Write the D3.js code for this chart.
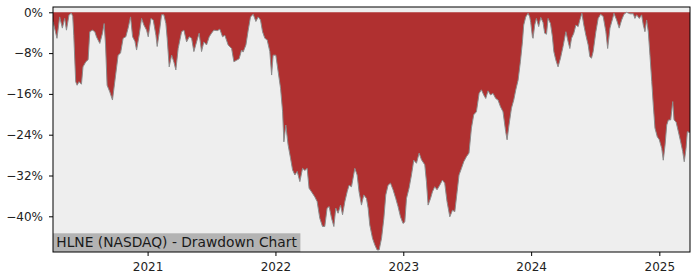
<!DOCTYPE html>
<html>
<head>
<meta charset="utf-8">
<script src="https://cdn.jsdelivr.net/npm/d3@7"></script>
<style>
html,body{margin:0;padding:0;background:#fff;}
svg{display:block;}
</style>
</head>
<body>
<svg id="chart" width="700" height="280"></svg>
<script>
// Decimal-year dates and drawdown values (%)
const dates = [
2020.262,2020.293,2020.314,2020.335,2020.353,2020.367,2020.387,2020.406,2020.416,2020.424,
2020.439,2020.450,2020.465,2020.484,2020.496,2020.518,2020.536,2020.549,2020.570,2020.588,
2020.601,2020.627,2020.648,2020.661,2020.672,2020.684,2020.705,2020.726,2020.744,2020.770,
2020.789,2020.809,2020.830,2020.848,2020.867,2020.883,2020.901,2020.914,2020.934,2020.953,
2020.971,2020.992,2021.005,2021.026,2021.044,2021.065,2021.075,2021.096,2021.109,2021.127,
2021.143,2021.153,2021.169,2021.188,2021.206,2021.221,2021.239,2021.266,2021.284,2021.305,
2021.325,2021.344,2021.362,2021.383,2021.403,2021.422,2021.440,2021.461,2021.482,2021.500,
2021.518,2021.545,2021.565,2021.586,2021.604,2021.630,2021.657,2021.675,2021.696,2021.716,
2021.735,2021.747,2021.769,2021.787,2021.805,2021.826,2021.847,2021.865,2021.883,2021.899,
2021.917,2021.935,2021.956,2021.970,2021.982,2022.003,2022.021,2022.040,2022.056,2022.066,
2022.081,2022.099,2022.118,2022.134,2022.152,2022.170,2022.191,2022.212,2022.230,2022.248,
2022.263,2022.282,2022.308,2022.326,2022.347,2022.368,2022.386,2022.404,2022.420,2022.439,
2022.457,2022.472,2022.490,2022.509,2022.525,2022.543,2022.561,2022.576,2022.595,2022.621,
2022.639,2022.654,2022.673,2022.691,2022.712,2022.725,2022.738,2022.759,2022.777,2022.795,
2022.811,2022.830,2022.848,2022.863,2022.881,2022.900,2022.920,2022.941,2022.959,2022.978,
2022.998,2023.012,2023.025,2023.045,2023.064,2023.082,2023.103,2023.124,2023.142,2023.168,
2023.181,2023.194,2023.213,2023.228,2023.246,2023.264,2023.285,2023.306,2023.324,2023.342,
2023.364,2023.385,2023.403,2023.421,2023.436,2023.455,2023.473,2023.494,2023.514,2023.533,
2023.551,2023.572,2023.593,2023.611,2023.629,2023.645,2023.663,2023.682,2023.702,2023.723,
2023.741,2023.760,2023.780,2023.801,2023.812,2023.827,2023.846,2023.864,2023.880,2023.898,
2023.916,2023.932,2023.942,2023.958,2023.976,2023.989,2023.997,2024.010,2024.015,2024.028,
2024.041,2024.059,2024.075,2024.093,2024.106,2024.120,2024.132,2024.151,2024.166,2024.177,
2024.192,2024.210,2024.229,2024.249,2024.271,2024.289,2024.302,2024.315,2024.333,2024.349,
2024.367,2024.380,2024.396,2024.411,2024.427,2024.445,2024.458,2024.471,2024.484,2024.505,
2024.523,2024.542,2024.562,2024.583,2024.597,2024.615,2024.636,2024.646,2024.667,2024.687,
2024.706,2024.724,2024.745,2024.771,2024.797,2024.810,2024.823,2024.844,2024.862,2024.875,
2024.888,2024.901,2024.914,2024.927,2024.941,2024.953,2024.966,2024.984,2025.000,2025.019,
2025.031,2025.045,2025.058,2025.071,2025.089,2025.105,2025.115,2025.131,2025.149,2025.167,
2025.183,2025.195,2025.209,2025.219,2025.240
];
const drawdown = [
-1.8,-5.1,-0.9,-3.1,-1.2,-3.5,-0.5,-0.2,-0.8,-4.5,
-13.6,-14.3,-13.6,-14.1,-10.7,-9.7,-9.3,-3.8,-3.5,-3.8,
-4.8,-6.1,-4.1,-2.2,-6.4,-14.3,-15.6,-17.2,-13.6,-8.4,
-8.0,-5.1,-4.8,-3.1,-0.9,-4.8,-5.7,-7.4,-4.5,-1.2,
-2.5,-3.5,-4.8,-1.2,-1.5,-4.5,-6.7,-3.1,-0.5,-0.5,
-2.2,-5.1,-10.7,-8.4,-9.8,-11.3,-7.1,-3.8,-3.5,-5.8,
-4.8,-5.1,-7.7,-5.8,-4.1,-7.7,-5.8,-6.4,-4.8,-4.1,
-3.5,-3.6,-3.3,-4.8,-4.5,-6.4,-7.1,-9.7,-9.4,-9.1,
-7.4,-7.8,-6.4,-3.5,-0.9,-0.4,-1.8,-0.9,-1.5,-3.8,
-5.1,-5.4,-7.7,-12.3,-8.4,-8.4,-11.6,-14.9,-19.5,-25.4,
-22.1,-26.0,-28.6,-30.9,-31.9,-31.2,-33.2,-30.6,-31.0,-30.6,
-34.5,-35.2,-36.2,-37.1,-40.4,-42.0,-42.0,-38.4,-38.1,-40.4,
-42.0,-38.4,-39.4,-37.8,-39.7,-37.1,-35.2,-33.9,-34.2,-30.6,
-31.9,-35.2,-37.8,-35.8,-36.5,-38.4,-41.7,-44.3,-45.6,-46.6,
-46.6,-44.3,-40.4,-35.8,-33.9,-33.5,-34.8,-36.5,-38.1,-40.1,
-41.4,-41.1,-36.5,-34.5,-31.9,-29.0,-29.6,-27.6,-28.9,-29.9,
-33.2,-37.8,-36.5,-35.2,-34.2,-34.8,-33.9,-32.9,-33.5,-37.1,
-40.1,-38.8,-39.1,-35.2,-31.9,-30.6,-29.3,-28.3,-27.6,-22.7,
-20.1,-19.5,-15.9,-15.2,-16.2,-16.9,-15.4,-16.2,-15.9,-16.9,
-17.2,-18.5,-19.5,-23.4,-25.0,-22.1,-18.8,-17.2,-15.2,-13.3,
-9.7,-5.8,-2.5,-0.9,-0.2,-0.9,-2.0,-4.8,-5.1,-2.5,
-1.2,-2.8,-1.0,-2.0,-4.1,-4.3,-1.2,-2.2,-4.8,-7.7,
-9.3,-10.7,-9.0,-6.7,-3.8,-5.8,-7.1,-5.1,-4.1,-2.5,
-2.8,-1.5,-0.2,-2.5,-4.5,-6.4,-8.7,-9.0,-7.7,-3.8,
-1.2,-0.4,-0.8,-3.8,-7.1,-3.1,-1.2,-0.2,-1.5,-3.1,
-1.5,-0.4,0,-0.3,-0.3,-1.2,-0.5,-1.2,-0.5,-2.5,
-3.8,-1.5,-3.8,-8.4,-13.6,-18.2,-22.7,-24.4,-25.0,-26.7,
-29.0,-26.0,-22.1,-21.1,-21.1,-17.5,-21.1,-21.5,-23.4,-25.4,
-27.3,-29.3,-26.7,-23.4,-23.6
];
const xTickYears = [2021, 2022, 2023, 2024, 2025];
const yTickValues = [0, -8, -16, -24, -32, -40];
const yDomain = [-47.0, 1.04];
const titleText = "HLNE (NASDAQ) - Drawdown Chart";

function toDate(dy) {
  const yr = Math.floor(dy);
  const s = new Date(yr, 0, 1).getTime();
  const e = new Date(yr + 1, 0, 1).getTime();
  return new Date(s + (dy - yr) * (e - s));
}

const data = dates.map((d, i) => ({date: toDate(d), v: drawdown[i]}));

const L = 53, R = 690, T = 7, B = 252;
const svg = d3.select("#chart");
const font = "DejaVu Sans, sans-serif";

const x = d3.scaleTime()
  .domain([toDate(dates[0]), toDate(dates[dates.length - 1])])
  .range([L, R]);
const y = d3.scaleLinear().domain(yDomain).range([B, T]);

svg.append("defs").append("clipPath").attr("id", "clip")
  .append("rect").attr("x", L).attr("y", T).attr("width", R - L).attr("height", B - T);

svg.append("rect").attr("x", L).attr("y", T).attr("width", R - L).attr("height", B - T)
  .attr("fill", "#eeeeee");

const g = svg.append("g").attr("clip-path", "url(#clip)");
g.append("path").datum(data)
  .attr("d", d3.area().x(d => x(d.date)).y0(y(0)).y1(d => y(d.v)))
  .attr("fill", "#b03030");
g.append("path").datum(data)
  .attr("d", d3.line().x(d => x(d.date)).y(d => y(d.v)))
  .attr("fill", "none").attr("stroke", "#8c8c8c").attr("stroke-width", 1);

// Title label box
const tg = svg.append("g");
const tx = tg.append("text").attr("x", L + 3.3).attr("y", 246.7)
  .attr("font-family", font).attr("font-size", "13.8px").attr("fill", "#1a1a1a")
  .text(titleText);
const bb = tx.node().getBBox();
tg.insert("rect", "text").attr("x", L).attr("y", 233.3)
  .attr("width", bb.x + bb.width + 3 - L).attr("height", B - 233.3)
  .attr("fill", "#b3b3b3");

// Axes
const fmt = d => (d < 0 ? "\u2212" : "") + Math.abs(d) + "%";
const yAxis = svg.append("g").attr("transform", `translate(${L},0)`)
  .call(d3.axisLeft(y).tickValues(yTickValues).tickFormat(fmt).tickSize(4).tickPadding(6));
const xAxis = svg.append("g").attr("transform", `translate(0,${B})`)
  .call(d3.axisBottom(x).tickValues(xTickYears.map(yy => new Date(yy, 0, 1)))
    .tickFormat(d3.timeFormat("%Y")).tickSize(4).tickPadding(6));
[yAxis, xAxis].forEach(a => {
  a.select(".domain").remove();
  a.selectAll("text").attr("font-family", font).attr("font-size", "12px").attr("fill", "#222");
  a.selectAll("line").attr("stroke", "#000").attr("stroke-width", 1);
});

svg.append("rect").attr("x", L).attr("y", T).attr("width", R - L).attr("height", B - T)
  .attr("fill", "none").attr("stroke", "#000").attr("stroke-width", 1);
</script>
</body>
</html>
